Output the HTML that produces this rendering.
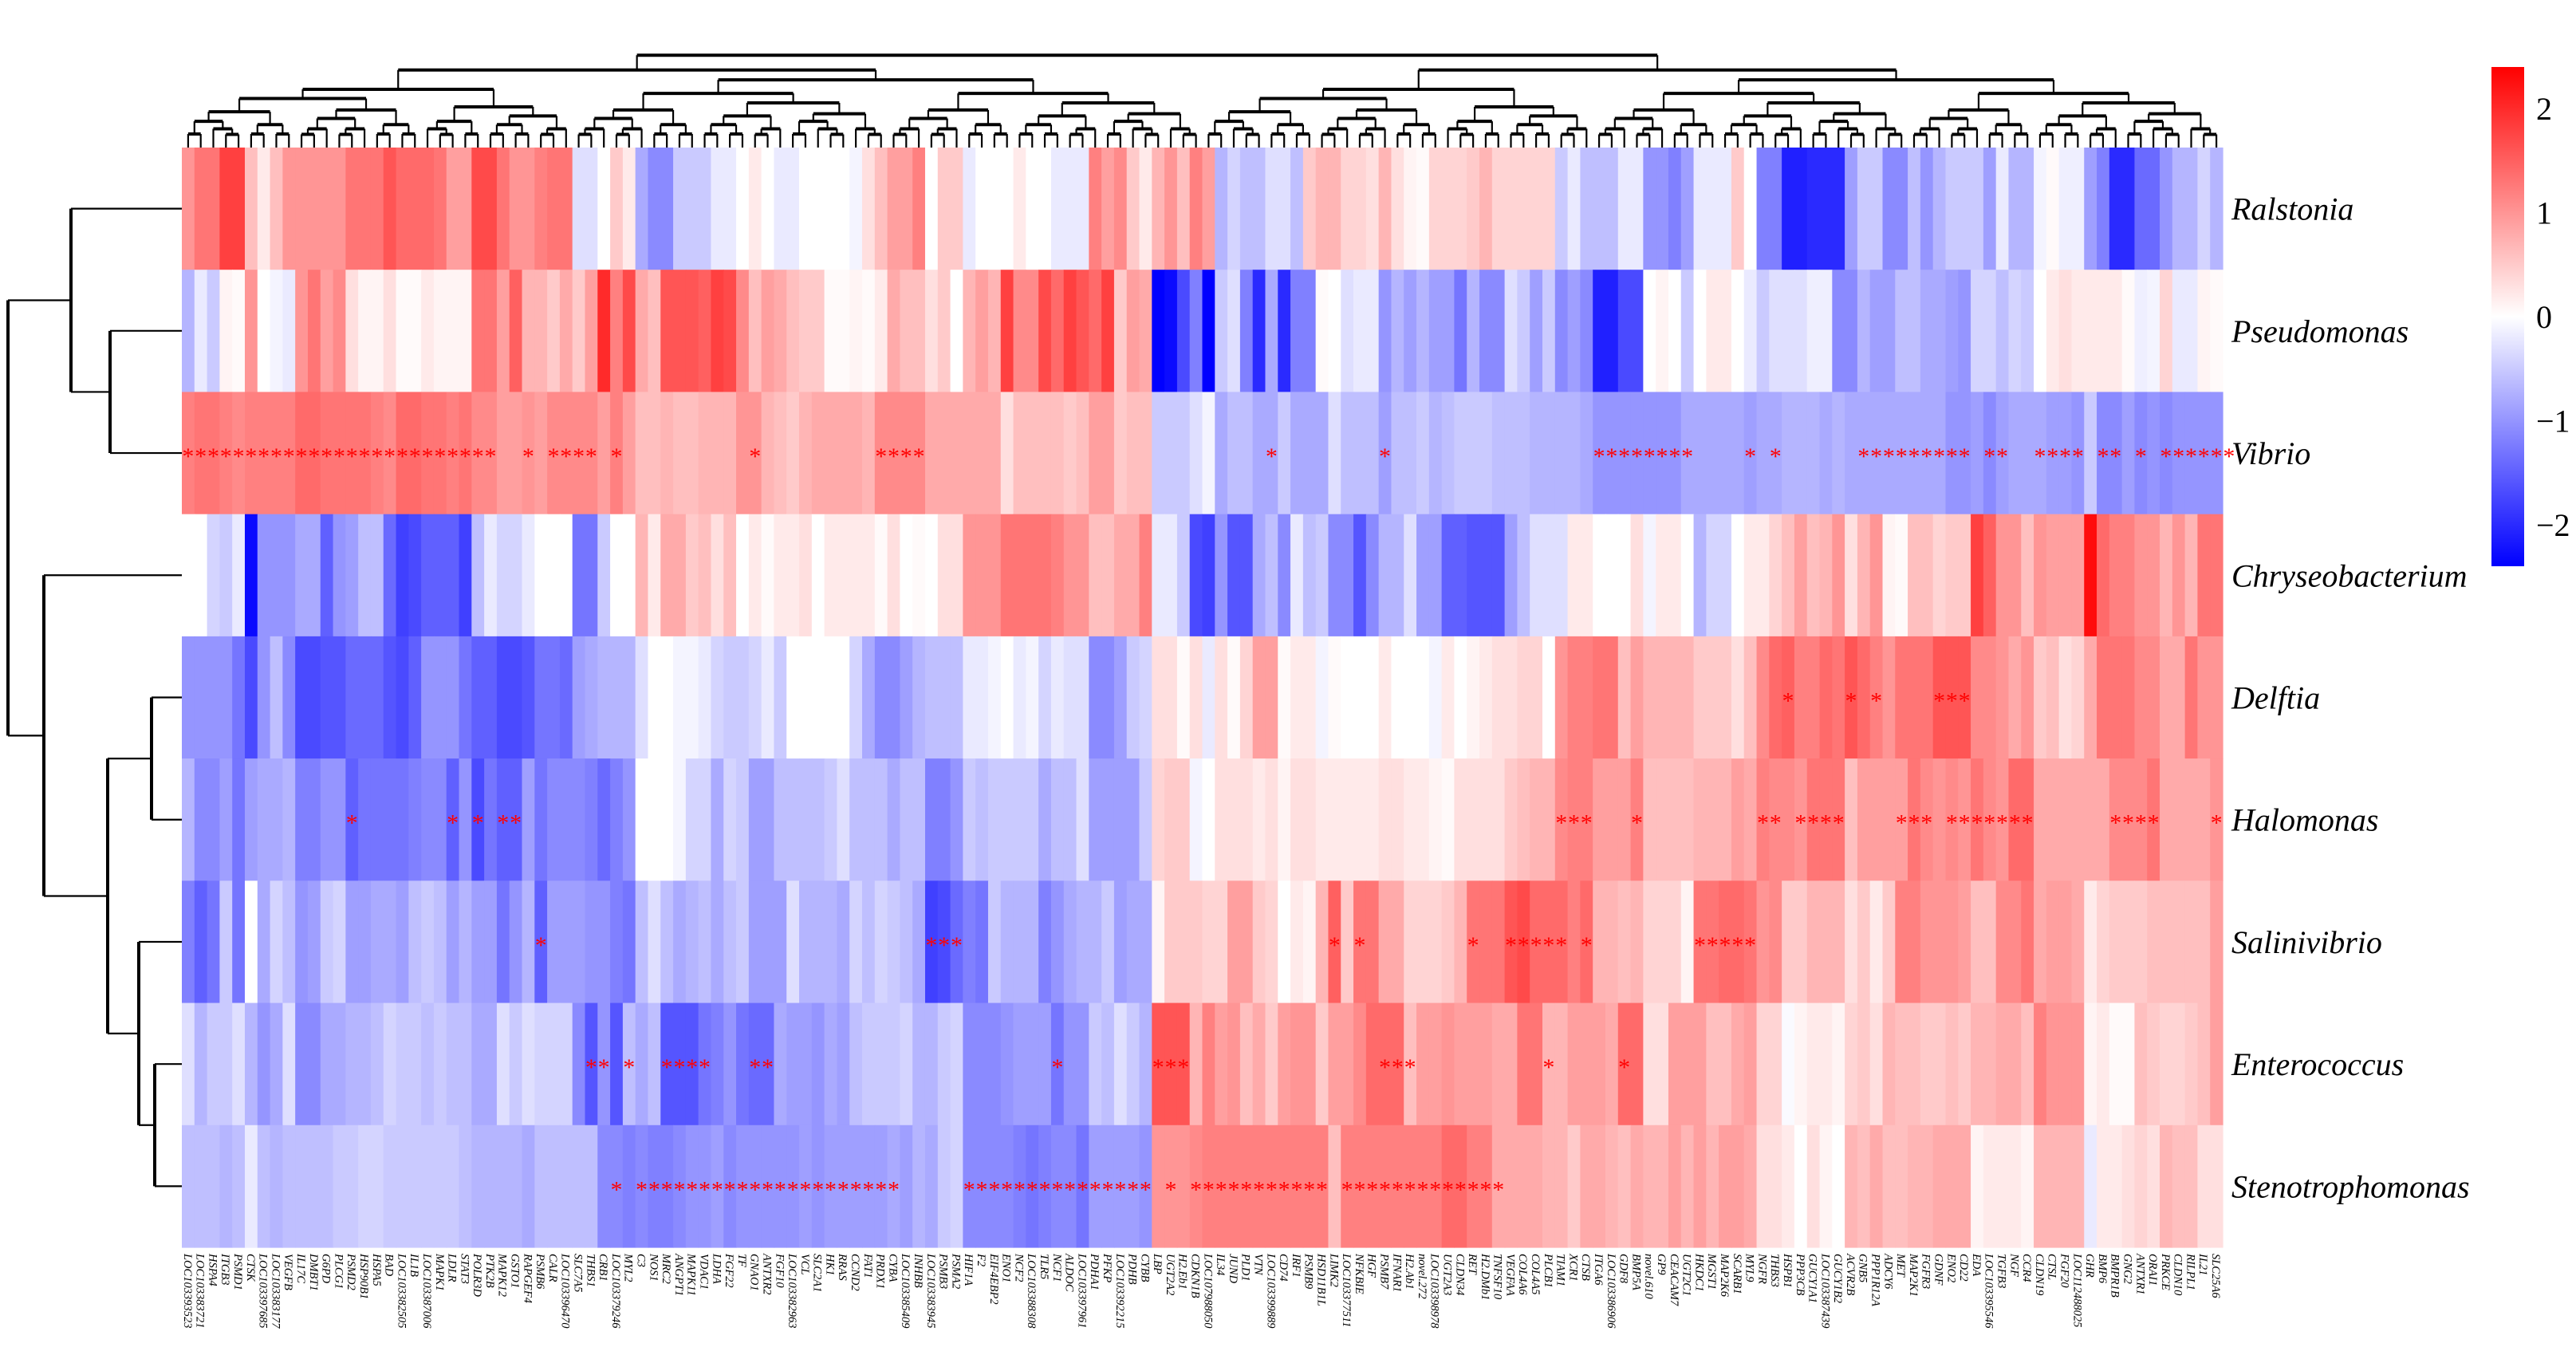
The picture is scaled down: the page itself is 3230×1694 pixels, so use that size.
<!DOCTYPE html>
<html><head><meta charset="utf-8"><style>
html,body{margin:0;padding:0;background:#fff;}
svg{display:block;}
</style></head><body>
<svg id="chart" width="3230" height="1694" viewBox="0 0 3230 1694" xmlns="http://www.w3.org/2000/svg">
<rect x="0" y="0" width="3230" height="1694" fill="#fff"/>
<g id="cells"></g>
<g id="stars"></g>
<g id="coldend"></g>
<g id="rowdend"></g>
<g id="collabels"></g>
<g id="rowlabels"></g>
<g id="legend"></g>
</svg>
<script>
const rowNames=["Ralstonia","Pseudomonas","Vibrio","Chryseobacterium","Delftia","Halomonas","Salinivibrio","Enterococcus","Stenotrophomonas"];
const genes=["LOC103393523","LOC103383721","HSPA4","ITGB3","PSMD1","CTSK","LOC103397685","LOC103383177","VEGFB","IL17C","DMBT1","G6PD","PLCG1","PSMD2","HSP90B1","HSPA5","BAD","LOC103382505","IL1B","LOC103387006","MAPK1","LDLR","STAT3","POLR3D","PTK2B","MAPK12","GSTO1","RAPGEF4","PSMB6","CALR","LOC103396470","SLC7A5","THBS1","CRB1","LOC103379246","MYL2","C3","NOS1","MRC2","ANGPT1","MAPK11","VDAC1","LDHA",
"FGF22","TF","GNAO1","ANTXR2","FGF10","LOC103382963","VCL","SLC2A1","HK1","RRAS","CCND2","FAT1","PRDX1","CYBA","LOC103385409","INHBB","LOC103383945","PSMB3","PSMA2","HIF1A","F2","EIF4EBP2","ENO1","NCF2","LOC103388308","TLR5","NCF1","ALDOC","LOC103397961","PDHA1","PFKP","LOC103392215","PDHB","CYBB","LBP","UGT2A2","H2.Eb1","CDKN1B","LOC107988050","IL34","JUND","PLD1","VTN","LOC103399889","CD74","IRF1","PSMB9","HSD11B1L","LIMK2","LOC103377511","NFKBIE","HGF","PSMB7","IFNAR1","H2.Ab1","novel.272","LOC103398978","UGT2A3","CLDN34",
"RET","H2.DMb1","TNFSF10","VEGFAA","COL4A6","COL4A5","PLCB1","TIAM1","XCR1","CTSB","ITGA6","LOC103386906","GDF8","BMP5A","novel.610","GP9","CEACAM7","UGT2C1","HKDC1","MGST1","MAP2K6","SCARB1","MYL9","NGFR","THBS3","HSPB1","PPP3CB","GUCY1A1","LOC103387439","GUCY1B2","ACVR2B","GNB5","PPP1R12A","ADCY6","MET","MAP2K1","FGFR3","GDNF","ENO2","CD22","EDA","LOC103395546","TGFB3","NGF","CCR4","CLDN19","CTSL","FGF20","LOC112488025","GHR","BMP6","BMPR1B","GNG2","ANTXR1","ORAI1","PRKCE","CLDN10","RILPL1","IL21","SLC25A6"];
const ralstonia=[1.0,1.3,1.3,1.8,1.8,0.6,0.2,0.6,1.0,1.0,1.0,1.0,1.0,1.3,1.3,1.3,1.6,1.4,1.4,1.4,1.3,0.9,0.9,1.7,1.7,1.3,1.0,1.0,1.2,1.3,1.3,-0.3,-0.3,0,0.5,0.2,-0.8,-1.1,-1.1,-0.5,-0.5,
-0.5,-0.2,-0.2,0,0.2,0,-0.2,-0.2,0,0,0,0,-0.1,0.3,0.6,0.9,0.9,1.2,0,0.5,0.5,-0.2,0,0,0,0.2,0,0,-0.2,-0.2,-0.2,1.2,0.9,1.1,0.5,0.2,0.7,1.0,0.6,1.2,0.9,-0.7,
-0.4,-0.6,-0.6,-0.3,-0.3,-0.6,0.5,0.7,0.7,0.4,0.4,0.3,0.7,0.3,0.1,0.05,0.4,0.4,0.4,0.5,0.7,0.4,0.4,0.4,0.4,0.4,-0.5,-0.2,-0.6,-0.6,-0.6,-0.2,-0.2,-1.0,-1.0,-1.2,-0.9,-0.2,-0.2,-0.2,0.5,0,
-1.2,-1.2,-2.1,-2.1,-2.0,-2.0,-2.0,-0.9,-0.5,-0.5,-1.1,-1.1,-0.6,-1.0,-0.7,-0.5,-0.5,-0.5,-0.9,-0.2,-0.7,-0.7,-0.1,0.05,-0.15,-0.15,-0.9,-1.2,-2.0,-2.0,-1.4,-1.4,-1.0,-0.7,-0.7,-0.4,-0.7,-0.7];
const pseudomonas=[-0.7,-0.2,-0.5,0.1,0.05,1.0,0,-0.1,-0.2,1.0,1.3,0.9,1.1,0.3,0.1,0.1,0.3,0.05,0.05,0.2,0.1,0.1,0.1,1.3,1.3,0.9,1.5,0.7,0.7,0.5,0.8,0.5,0.9,2.0,1.2,1.7,0.8,0.6,1.6,1.6,1.6,
1.5,1.8,1.7,1.1,0.6,0.9,0.8,0.6,0.5,0.5,0.05,0.05,0.1,0.05,0.2,0.8,0.6,0.6,0.3,0.5,0,0.7,0.9,0.7,1.8,1.1,1.1,1.7,1.4,1.8,1.6,1.4,1.8,0.5,0.9,0.8,-2.4,-2.3,-1.7,-1.2,-2.4,-0.5,
-0.3,-1.2,-2.0,-0.8,-2.0,-1.2,-1.2,0.05,0,-0.3,-0.2,-0.2,-1.0,-0.7,-0.9,-0.7,-0.9,-0.9,-1.3,-0.7,-1.1,-1.1,-0.3,-0.5,-0.9,-0.5,-1.1,-0.9,-1.1,-2.1,-2.1,-1.7,-1.7,0,0.1,0,-0.5,0,0.2,0.2,0,-0.2,
-0.5,-0.3,-0.3,-0.3,-0.15,-0.15,-1.1,-1.1,-0.7,-0.9,-0.9,-0.6,-0.6,-0.8,-0.8,-0.9,-1.0,-0.4,-0.4,-0.6,-0.4,-0.5,0,0.2,0.3,0.2,0.2,0.2,0.2,0.05,-0.15,-0.1,0.4,-0.2,-0.2,0.1,0.05,0.05];
const vibrio=[1.2,1.3,1.3,1.2,1.1,1.2,1.2,1.2,1.2,1.4,1.4,1.3,1.3,1.3,1.3,1.2,1.1,1.4,1.4,1.3,1.3,1.2,1.3,1.1,1.1,0.9,0.9,1.0,0.9,1.1,1.1,1.1,1.1,0.9,1.2,0.9,0.6,0.6,0.7,0.6,0.6,
0.7,0.7,0.7,1.0,1.0,0.7,0.6,0.5,0.7,0.8,0.8,0.8,0.8,0.7,1.1,1.1,1.1,1.1,0.8,0.8,0.8,0.8,0.8,0.8,0.3,0.6,0.6,0.6,0.6,0.5,0.6,0.9,0.9,0.5,0.6,0.6,-0.5,-0.5,-0.5,-0.3,-0.1,-0.8,
-0.6,-0.6,-0.8,-0.8,-0.5,-0.8,-0.8,-0.8,-0.3,-0.6,-0.6,-0.6,-0.9,-0.6,-0.6,-0.5,-0.7,-0.6,-0.5,-0.5,-0.5,-0.6,-0.6,-0.6,-0.7,-0.7,-0.7,-0.7,-0.8,-1.0,-1.0,-1.0,-1.0,-1.0,-1.0,-1.0,-0.8,-0.8,-0.8,-0.8,-0.8,-0.9,
-0.8,-0.8,-0.7,-0.7,-0.7,-0.8,-0.7,-0.8,-0.8,-0.8,-0.8,-0.8,-0.8,-0.8,-0.8,-1.0,-1.0,-0.9,-1.1,-0.9,-0.8,-0.8,-0.8,-0.9,-0.9,-1.0,-0.5,-1.1,-1.1,-0.9,-1.1,-1.0,-1.1,-1.0,-1.0,-1.0,-1.0,-1.2];
const chryseobacterium=[0,0,-0.4,-0.5,-0.2,-2.3,-1.0,-1.0,-1.0,-0.8,-0.8,-1.5,-1.0,-0.9,-0.6,-0.6,-1.4,-1.8,-1.7,-1.5,-1.5,-1.5,-1.8,-0.6,-0.2,-0.4,-0.4,-0.2,0,0,0,-1.3,-1.3,-0.5,0,0,0.7,0.2,0.8,0.8,0.5,
0.6,0.3,0.6,0,0.2,0.05,0.2,0.2,0.3,0,0.2,0.2,0.2,0.2,0.05,0.3,0,0.05,0,0.3,0.3,1.0,1.0,1.0,1.3,1.3,1.3,1.3,1.2,1.0,1.0,0.6,0.6,0.8,0.8,1.2,-0.2,-0.2,-0.5,-1.7,-1.8,-1.0,
-1.6,-1.6,-0.8,-0.6,-1.1,-0.2,-0.6,-0.5,-1.1,-1.1,-1.6,-1.1,-0.7,-0.7,-0.3,-0.9,-0.9,-1.5,-1.5,-1.6,-1.6,-1.6,-0.9,-0.6,-0.3,-0.3,-0.3,0.2,0.2,0,0,0,0.3,-0.1,0.2,0.2,0,-0.7,-0.4,-0.4,0,0.2,
0.2,0.4,0.6,0.9,0.6,0.7,1.0,0.3,0.7,1.0,0.1,0.05,0.6,0.6,0.4,0.5,0.5,1.8,1.5,1.0,1.0,0.6,1.0,0.9,0.9,0.9,2.3,1.4,1.2,1.2,1.0,1.0,0.7,1.0,0.7,1.3,1.3,1.3];
const delftia=[-1.0,-1.0,-1.0,-1.0,-1.3,-1.7,-1.0,-0.6,-1.1,-1.7,-1.7,-1.6,-1.6,-1.4,-1.4,-1.4,-1.6,-1.7,-1.5,-1.0,-1.0,-1.0,-1.3,-1.5,-1.5,-1.7,-1.7,-1.6,-1.3,-1.3,-1.4,-0.9,-0.8,-0.7,-0.7,-0.7,-0.3,0,0,-0.1,-0.1,
-0.2,-0.4,-0.5,-0.5,-0.4,-0.2,-0.5,0,0,0,0,0,-0.4,-0.8,-1.1,-1.1,-0.9,-0.7,-0.6,-0.6,-0.6,-0.2,-0.2,-0.1,0,-0.2,-0.1,-0.4,-0.2,-0.3,-0.3,-1.1,-1.1,-0.9,-0.5,-0.4,0.3,0.3,0.05,0.3,-0.2,0.3,
0.05,0.4,0.9,0.9,0.05,0.2,0.2,-0.1,0.05,0,0,0,0.2,0,0,0,-0.1,0.2,0,0.1,0.2,0.3,0.3,0.4,0.4,0,1.0,1.2,1.2,1.3,1.3,0.6,0.9,0.7,0.7,0.7,0.7,0.5,0.5,0.5,0.3,0.6,
1.1,1.4,1.5,1.2,1.2,1.4,1.3,1.6,1.4,1.2,1.0,1.3,1.3,1.3,1.6,1.6,1.6,1.1,1.1,1.0,0.8,1.0,0.5,0.6,0.3,0.4,0.8,1.3,1.3,1.3,1.1,1.1,0.8,0.8,1.3,1.0,1.0,1.2];
const halomonas=[-0.7,-1.1,-1.1,-0.9,-1.3,-0.9,-0.8,-0.8,-0.7,-1.2,-1.2,-1.0,-1.0,-1.5,-1.3,-1.3,-1.3,-1.3,-1.2,-1.1,-1.1,-1.5,-1.0,-1.7,-1.3,-1.5,-1.5,-0.9,-1.3,-1.1,-1.1,-1.1,-1.2,-1.4,-1.2,-1.0,0,0,0,-0.1,-0.4,
-0.4,-0.8,-0.4,-0.5,-0.9,-0.9,-0.6,-0.6,-0.6,-0.6,-0.5,-0.3,-0.6,-0.6,-0.6,-0.8,-0.6,-0.6,-1.2,-1.2,-1.0,-0.5,-0.6,-0.5,-0.5,-0.5,-0.5,-0.8,-0.6,-0.6,-0.3,-0.9,-0.9,-0.9,-0.9,-0.5,0.4,0.5,0.5,-0.1,0,0.3,
0.3,0.3,0.2,0.3,0.1,0.3,0.3,0.2,0.2,0.2,0.2,0.2,0.3,0.3,0.2,0.2,0.1,0.05,0.3,0.3,0.3,0.3,0.5,0.6,0.7,0.7,1.1,1.2,1.2,0.9,0.9,0.9,1.2,0.6,0.6,0.6,0.6,0.7,0.7,0.7,0.9,0.8,
1.2,1.1,1.1,1.0,1.3,1.3,1.3,0.6,0.9,0.9,0.9,0.9,1.3,1.1,1.0,1.1,1.0,1.3,1.1,1.0,1.4,1.4,0.8,0.8,0.8,0.8,0.8,0.8,1.1,1.1,1.1,1.3,0.8,0.8,0.8,0.8,1.0,1.0];
const salinivibrio=[-1.2,-1.5,-1.3,-0.5,-1.3,0,-0.8,-0.4,-0.6,-1.0,-0.9,-0.5,-0.4,-0.9,-0.9,-0.8,-0.8,-0.9,-0.6,-0.5,-0.6,-0.9,-0.7,-0.9,-0.9,-1.3,-1.0,-0.7,-1.5,-0.9,-0.9,-0.9,-1.0,-1.0,-1.2,-1.3,-0.6,-0.3,-0.6,-0.8,-0.7,
-0.6,-0.8,-0.6,-0.5,-0.9,-0.9,-0.9,-0.3,-0.7,-0.7,-0.7,-0.8,-0.4,-0.6,-0.4,-0.5,-0.6,-0.8,-1.8,-1.7,-1.4,-1.2,-1.3,-0.5,-0.7,-0.7,-0.7,-1.2,-1.0,-0.8,-0.7,-0.7,-0.5,-0.9,-0.8,-0.8,0.1,0.5,0.5,0.5,0.4,0.4,
0.9,0.9,0.5,0.4,0,0.2,0.1,0.7,1.5,0.5,1.3,1.3,0.8,0.8,0.4,0.4,0.4,0.5,0.7,1.3,1.3,1.3,1.6,1.7,1.4,1.4,1.4,1.2,1.4,0.7,0.7,0.6,0.7,0.4,0.4,0.4,0.1,1.3,1.3,1.4,1.4,1.3,
1.0,1.1,0.5,0.5,0.7,0.7,0.7,0.3,0.5,0.2,0.5,1.2,1.2,1.0,1.0,1.0,0.9,0.6,0.6,1.1,1.1,1.3,0.8,0.9,0.9,0.8,0.2,0.4,0.5,0.5,0.5,0.6,0.6,0.6,0.6,0.6,0.9,0.9];
const enterococcus=[-0.3,-0.7,-0.5,-0.5,-0.3,-0.7,-1.0,-0.8,-0.3,-1.1,-1.1,-0.8,-0.8,-0.7,-0.7,-0.6,-0.4,-0.5,-0.5,-0.6,-0.5,-0.6,-0.6,-0.8,-0.8,-0.3,-0.5,-0.3,-0.4,-0.4,-0.4,-1.1,-1.6,-1.0,-1.6,-0.6,-0.8,-0.6,-1.6,-1.6,-1.6,
-1.3,-1.2,-1.0,-1.3,-1.4,-1.4,-0.8,-0.9,-0.9,-1.0,-0.8,-0.9,-0.6,-0.5,-0.5,-0.5,-0.4,-0.7,-0.7,-0.5,-0.4,-1.1,-1.1,-1.1,-1.0,-0.9,-0.9,-0.9,-1.3,-1.0,-1.0,-0.5,-0.6,-0.3,-0.5,-0.7,1.6,1.6,1.6,0.7,1.2,0.9,
1.0,0.6,0.8,0.5,0.9,1.0,1.0,0.5,0.9,0.9,1.1,1.4,1.4,1.4,0.6,0.9,0.9,1.0,0.9,0.9,0.9,0.8,0.8,1.3,1.3,0.7,0.7,0.9,0.9,0.9,0.8,1.4,1.4,0.3,0.3,0.9,0.9,0.9,0.6,0.6,0.8,0.9,
0.4,0.4,-0.05,0.1,0.2,0.2,0.1,0.4,0.5,0.3,0.7,0.6,0.6,0.5,0.5,0.6,0.5,0.7,0.7,0.8,0.8,0.6,1.2,1.0,1.0,1.0,0.1,0.2,0.05,0.05,0.6,0.5,0.4,0.4,0.5,0.6,0.9,0.6];
const stenotrophomonas=[-0.6,-0.6,-0.6,-0.7,-0.6,-0.2,-0.6,-0.7,-0.6,-0.6,-0.6,-0.6,-0.5,-0.5,-0.4,-0.4,-0.5,-0.5,-0.5,-0.5,-0.5,-0.5,-0.6,-0.7,-0.7,-0.7,-0.7,-0.8,-0.6,-0.6,-0.6,-0.6,-0.6,-1.1,-1.1,-1.2,-1.1,-1.2,-1.2,-1.1,-1.0,
-1.0,-0.9,-1.1,-1.0,-1.0,-1.0,-1.0,-1.0,-0.9,-1.0,-0.9,-0.9,-0.9,-0.9,-0.9,-0.8,-0.9,-0.7,-0.8,-0.5,-0.4,-1.1,-1.1,-1.1,-1.1,-1.2,-1.3,-1.2,-1.1,-1.1,-1.3,-0.9,-0.9,-0.9,-0.9,-1.0,1.0,1.0,1.0,1.1,1.2,1.2,
1.2,1.2,1.2,1.2,1.2,1.2,1.2,1.2,0.6,1.2,1.2,1.2,1.2,1.2,1.2,1.2,1.2,1.4,1.4,1.2,1.2,0.8,0.8,0.8,0.8,0.7,0.7,0.5,0.8,0.8,0.7,0.6,0.8,0.7,0.7,0.9,0.7,0.9,0.7,0.9,0.9,0.8,
0.3,0.3,0.2,0,0.3,0.1,0,0.7,0.6,0.8,0.6,0.6,0.7,0.7,0.8,0.8,0.8,0.1,0.2,0.2,0.2,0.1,0.7,0.7,0.7,0.7,-0.2,0.2,0.2,0.3,0.4,0.3,0.7,0.6,0.6,0.3,0.3,0.5];
// significant columns per row (ranges [from,to] of column indices)
const starsRalstonia=[];
const starsPseudomonas=[];
const starsVibrio=[[0,24],[27,27],[29,32],[34,34],[45,45],[55,58],[86,86],[95,95],[112,119],[124,124],[126,126],[133,141],[143,144],[147,150],[152,153],[155,155],[157,162]];
const starsChryseobacterium=[];
const starsDelftia=[[127,127],[132,132],[134,134],[139,141]];
const starsHalomonas=[[13,13],[21,21],[23,23],[25,26],[109,111],[115,115],[125,126],[128,131],[136,138],[140,146],[153,156],[161,161]];
const starsSalinivibrio=[[28,28],[59,61],[91,91],[93,93],[102,102],[105,109],[111,111],[120,124]];
const starsEnterococcus=[[32,33],[35,35],[38,41],[45,46],[69,69],[77,79],[95,97],[108,108],[114,114]];
const starsStenotrophomonas=[[34,34],[36,56],[62,76],[78,78],[80,90],[92,104]];
const legendTicks=[2,1,0,-1,-2];
const legendMin=-2.4, legendMax=2.4;

const rows=[ralstonia,pseudomonas,vibrio,chryseobacterium,delftia,halomonas,salinivibrio,enterococcus,stenotrophomonas];
const starRows=[starsRalstonia,starsPseudomonas,starsVibrio,starsChryseobacterium,starsDelftia,starsHalomonas,starsSalinivibrio,starsEnterococcus,starsStenotrophomonas];

const NS="http://www.w3.org/2000/svg";
const X0=228, X1=2787, Y0=185, Y1=1564;
const nCol=genes.length, nRow=rowNames.length;
const cw=(X1-X0)/nCol, rh=(Y1-Y0)/nRow;
function xScale(c){return X0+c*cw;}
function yScale(r){return Y0+r*rh;}
function color(v){
  const t=Math.max(0,Math.min(1,Math.abs(v)/legendMax));
  const k=Math.round(255*(1-t));
  return v>=0?`rgb(255,${k},${k})`:`rgb(${k},${k},255)`;
}
function mk(tag,attrs,parent){const e=document.createElementNS(NS,tag);for(const a in attrs)e.setAttribute(a,attrs[a]);parent.appendChild(e);return e;}

const gCells=document.getElementById('cells');
rows.forEach((vals,r)=>{
  for(let c=0;c<nCol;c++){
    const v=vals[c]===undefined?0:vals[c];
    const el=mk('rect',{x:xScale(c).toFixed(2),y:yScale(r).toFixed(2),width:(cw+0.6).toFixed(2),height:(rh+0.6).toFixed(2),fill:color(v)},gCells);
    
    
  }
});
const gStars=document.getElementById('stars');
starRows.forEach((ranges,r)=>{
  ranges.forEach(([a,b])=>{
    for(let c=a;c<=b;c++){
      const t=mk('text',{x:(xScale(c)+cw/2).toFixed(2),y:(yScale(r)+rh/2+14).toFixed(2),'text-anchor':'middle','font-family':'"Liberation Serif",serif','font-size':'30',fill:'#ff0000'},gStars);
      t.textContent='*';
      
      
    }
  });
});

// column dendrogram
const gCD=document.getElementById('coldend');
const spec={"0-162":[78,7],"0-77":[35,65],"0-34":[5,104],"35-77":[42,100],"78-162":[109,33],"78-108":[81,110],"109-162":[125,86],"109-124":[114,116],"125-162":[137,105]};
const ratios=[0.5,0.38,0.6,0.45,0.55,0.42,0.65,0.35];
let ri=0;
function line(x1,y1,x2,y2,w,g){const l=mk('line',{x1:x1.toFixed(2),y1:y1.toFixed(2),x2:x2.toFixed(2),y2:y2.toFixed(2),stroke:'#000','stroke-width':w},g);return l;}
function build(a,b,py){
  if(a===b) return {x:xScale(a)+cw/2,y:Y0};
  const key=a+"-"+b;let s,y;
  if(spec[key]){s=spec[key][0];y=spec[key][1];}
  else{
    const n=b-a+1;
    y=Math.max(176-8*Math.pow(Math.log2(n),1.3),py+7);
    if(y>178)y=178;
    s=a+Math.max(1,Math.min(n-1,Math.round(n*ratios[ri++%ratios.length])));
  }
  const L=build(a,s-1,y),R=build(s,b,y);
  line(L.x,y,R.x,y,4,gCD);
  line(L.x,y,L.x,L.y,2.2,gCD);
  line(R.x,y,R.x,R.y,2.2,gCD);
  return {x:(L.x+R.x)/2,y:y};
}
build(0,nCol-1,0);

// row dendrogram
const gRD=document.getElementById('rowdend');
function rc(i){return yScale(i)+rh/2;}
function joinRow(a,b,x){ // a,b:{y,x}
  line(x,a.y,x,b.y,4,gRD);
  line(x,a.y,a.x,a.y,2.2,gRD);
  line(x,b.y,b.x,b.y,2.2,gRD);
  return {x:x,y:(a.y+b.y)/2};
}
const leaf=i=>({x:X0,y:rc(i)});
const nA=joinRow(leaf(1),leaf(2),138);
const nB=joinRow(leaf(0),nA,89);
const nD=joinRow(leaf(4),leaf(5),190);
const nE=joinRow(leaf(7),leaf(8),194);
const nF=joinRow(leaf(6),nE,174);
const nG=joinRow(nD,nF,135);
const nH=joinRow(leaf(3),nG,55);
joinRow(nB,nH,10);

// labels
const gCL=document.getElementById('collabels');
genes.forEach((g,c)=>{
  const x=xScale(c)+cw/2, y=1572;
  const t=mk('text',{x:x.toFixed(2),y:y,dy:'0.35em',transform:`rotate(90 ${x.toFixed(2)} ${y})`,'font-family':'"Liberation Serif",serif','font-style':'italic','font-size':'14.5',fill:'#000'},gCL);
  t.textContent=g;
  
  
});
const gRL=document.getElementById('rowlabels');
rowNames.forEach((n,r)=>{
  const t=mk('text',{x:2798,y:(rc(r)+14).toFixed(2),'font-family':'"Liberation Serif",serif','font-style':'italic','font-size':'40',fill:'#000'},gRL);
  t.textContent=n;
  
  
});

// legend
const gL=document.getElementById('legend');
const defs=mk('defs',{},gL);
const grad=mk('linearGradient',{id:'cb',x1:'0',y1:'0',x2:'0',y2:'1'},defs);
[[0,'#ff0000'],[0.5,'#ffffff'],[1,'#0000ff']].forEach(([o,c])=>mk('stop',{offset:o,'stop-color':c},grad));
const LT=84, LB=710;
function lScale(v){return LT+(legendMax-v)/(legendMax-legendMin)*(LB-LT);}
const bar=mk('rect',{x:3124,y:LT,width:41,height:LB-LT,fill:'url(#cb)'},gL);


legendTicks.forEach(v=>{
  const t=mk('text',{x:3180,y:(lScale(v)+14).toFixed(2),'font-family':'"Liberation Serif",serif','font-size':'40',fill:'#000'},gL);
  t.textContent=v<0?'\u2212'+Math.abs(v):String(v);
  
  
});
</script>
</body></html>
